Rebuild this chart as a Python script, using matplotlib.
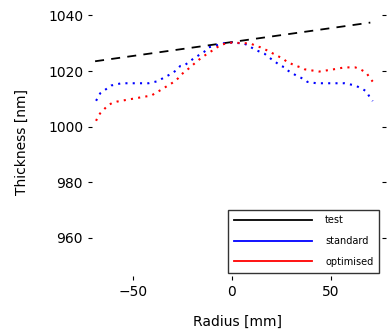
import matplotlib
matplotlib.use("Agg")
import matplotlib.pyplot as plt
import numpy as np

# Data
test_x = [-69, 70]
test_y = [1023.5, 1037.4]

std_x = [-68.5, -66.4, -60.8, -55.7, -42.0, -37.6, -34.0, -30.0, -27.8, -26.0, -23.9, -19.8,
         -16.8, -13.9, -11.7, -7.8, -4.9, 0.0, 6.1, 8.3, 10.3, 12.3, 14.6, 16.6, 18.8, 24.7,
         26.8, 27.8, 30.6, 32.8, 34.9, 37.1, 38.2, 42.8, 57.0, 62.4, 66.1, 68.2, 69.5, 71.2]
std_y = [1009.3, 1012.0, 1014.8, 1015.6, 1015.6, 1016.3, 1017.7, 1019.2, 1020.4, 1021.8, 1022.0, 1024.2,
         1025.6, 1026.9, 1028.5, 1029.2, 1029.9, 1030.2, 1029.9, 1029.2, 1028.3, 1027.5, 1026.8, 1026.2, 1024.9, 1021.9,
         1021.3, 1020.4, 1019.2, 1018.3, 1017.6, 1016.8, 1016.1, 1015.6, 1015.6, 1014.8, 1013.5, 1012.6, 1010.8, 1009.2]

opt_x = [-68.5, -67.3, -66.3, -62.6, -60.4, -58.0, -51.0, -40.5, -38.7, -37.0, -35.0, -32.0,
         -30.3, -28.6, -27.2, -25.7, -21.0, -18.8, -15.1, -8.6, -5.8, -2.9, 0.0, 9.5, 12.3,
         14.6, 16.6, 19.6, 20.8, 22.7, 26.4, 27.8, 29.8, 31.8, 34.9, 36.9, 44.2, 51.4, 57.0,
         62.4, 65.0, 67.0, 68.2, 69.5, 71.2]
opt_y = [1002.1, 1004.0, 1004.9, 1007.6, 1008.5, 1009.0, 1009.9, 1011.2, 1012.0, 1012.7, 1013.5, 1014.9,
         1015.6, 1016.4, 1017.3, 1018.6, 1021.3, 1022.7, 1024.9, 1027.9, 1029.3, 1029.9, 1030.2, 1029.9, 1029.0,
         1028.5, 1027.8, 1026.9, 1026.3, 1025.6, 1024.2, 1023.3, 1022.7, 1022.0, 1021.3, 1020.6, 1019.8, 1020.6, 1021.3,
         1021.3, 1020.6, 1019.8, 1019.2, 1017.7, 1016.2]

labels = ["test", "standard", "optimised"]
xticks = [-50, 0, 50]
yticks = [960, 980, 1000, 1020, 1040]

fig = plt.figure(figsize=(3.92, 3.36), dpi=100)
ax = fig.add_axes([0.235, 0.18, 0.74, 0.795])

ax.plot(test_x, test_y, color="black", linestyle=(0, (5, 4)), linewidth=1.3, label=labels[0])
ax.plot(std_x, std_y, color="blue", linestyle=(0, (1, 2.5)), linewidth=1.5, label=labels[1])
ax.plot(opt_x, opt_y, color="red", linestyle=(0, (1, 2.5)), linewidth=1.5, label=labels[2])

ax.set_xlim(-70.5, 76)
ax.set_ylim(946.5, 1042.5)
ax.set_xticks(xticks)
ax.set_yticks(yticks)
for s in ax.spines.values():
    s.set_visible(False)
ax.tick_params(axis="both", labelsize=10, length=3, width=0.8)
ax.tick_params(axis="y", right=True)
ax.set_xlabel("Radius [mm]", fontsize=10, labelpad=12)
ax.set_ylabel("Thickness [nm]", fontsize=10, labelpad=14)

handles = [plt.Line2D([], [], color=c, linewidth=1.3) for c in ["black", "blue", "red"]]
leg = ax.legend(handles, labels, loc="lower right", fontsize=7, handlelength=8.0,
                frameon=True, fancybox=False, borderaxespad=0.3, labelspacing=1.1,
                handletextpad=1.4, borderpad=0.6)
leg.get_frame().set_edgecolor("black")
leg.get_frame().set_linewidth(1.0)

fig.savefig("out.png", dpi=100)
